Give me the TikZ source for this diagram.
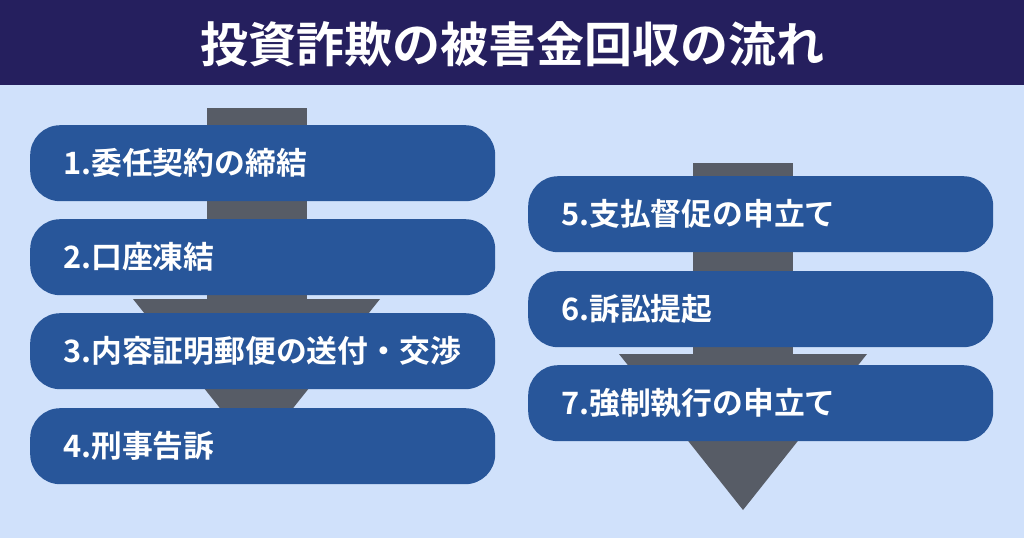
\documentclass[tikz,border=0pt]{standalone}
\usepackage{fontspec}
\newfontfamily\jpfont{Noto Sans CJK JP}[BoldFont={Noto Sans CJK JP Bold}]
\definecolor{titlebar}{HTML}{251F5E}
\definecolor{bgblue}{HTML}{D0E1FB}
\definecolor{boxblue}{HTML}{28569A}
\definecolor{arrowgray}{HTML}{575C66}
\tikzset{
  stepbox/.style={fill=boxblue, rounded corners=30pt, minimum height=76pt,
    text width=399pt, inner xsep=33pt, inner ysep=0pt, align=left,
    text=white, font=\jpfont\bfseries\fontsize{30.8}{34}\selectfont, anchor=north west},
  flowarrow/.style={fill=arrowgray},
  titletext/.style={text=white, font=\jpfont\bfseries\fontsize{48}{54}\selectfont}
}
\begin{document}
\begin{tikzpicture}[x=1pt,y=-1pt]
\useasboundingbox (0,0) rectangle (1024,538);
\fill[bgblue] (0,0) rectangle (1024,538);
\fill[titlebar] (0,0) rectangle (1024,85);
\node[titletext] (title) at (512,44) {投資詐欺の被害金回収の流れ};
% left arrow
\fill[flowarrow] (207,108) rectangle (307,300);
\fill[flowarrow] (133,299) -- (380,299) -- (256.5,454) -- cycle;
% right arrow
\fill[flowarrow] (693,163) rectangle (793,355);
\fill[flowarrow] (619,354) -- (867,354) -- (743,510) -- cycle;
% left boxes
\node[stepbox] (s1) at (30,125) {1.委任契約の締結};
\node[stepbox] (s2) at (30,219) {2.口座凍結};
\node[stepbox] (s3) at (30,313) {3.内容証明郵便の送付・交渉};
\node[stepbox] (s4) at (30,408) {4.刑事告訴};
% right boxes
\node[stepbox] (s5) at (528,176) {5.支払督促の申立て};
\node[stepbox] (s6) at (528,271) {6.訴訟提起};
\node[stepbox] (s7) at (528,365) {7.強制執行の申立て};
\end{tikzpicture}
\end{document}
